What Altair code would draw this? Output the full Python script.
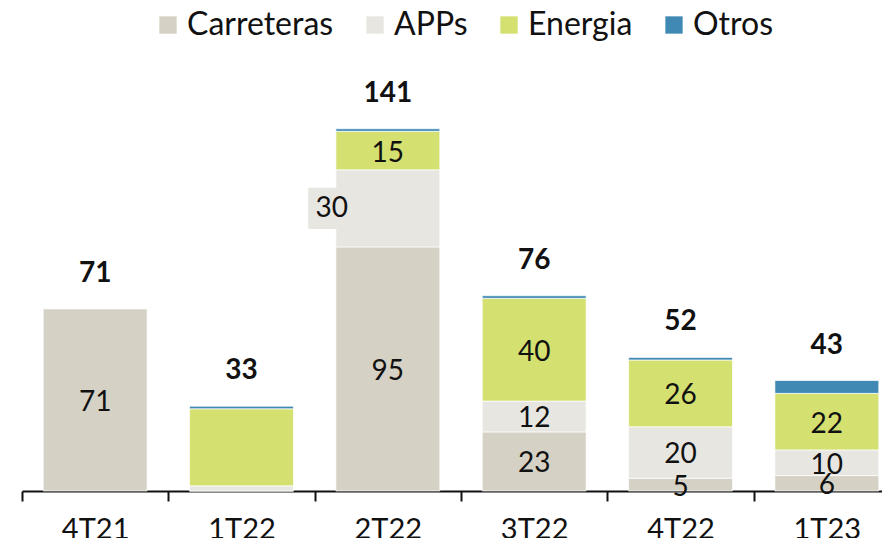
import altair as alt
import pandas as pd

categories = ["4T21", "1T22", "2T22", "3T22", "4T22", "1T23"]
series = ["Carreteras", "APPs", "Energia", "Otros"]
carreteras = [71, 0, 95, 23, 5, 6]
apps = [0, 2, 30, 12, 20, 10]
energia = [0, 30, 15, 40, 26, 22]
otros = [0, 1, 1, 1, 1, 5]
totals = [71, 33, 141, 76, 52, 43]
carreteras_labels = ["71", "", "95", "23", "5", "6"]
apps_labels = ["", "", "30", "12", "20", "10"]
energia_labels = ["", "", "15", "40", "26", "22"]
otros_labels = ["", "", "", "", "", ""]
colors = ["#d5d1c4", "#e7e6e1", "#d4e06f", "#3f89b4"]

rows = []
for si, (name, vals, labs) in enumerate(zip(series,
                                             [carreteras, apps, energia, otros],
                                             [carreteras_labels, apps_labels, energia_labels, otros_labels])):
    for ci, c in enumerate(categories):
        rows.append(dict(cat=c, series=name, order=si, value=vals[ci], label=labs[ci]))
df = pd.DataFrame(rows)
df["end"] = df.groupby("cat")["value"].cumsum()
df["mid"] = df["end"] - df["value"] / 2
tot_df = pd.DataFrame({"cat": categories, "total": totals})

FONT = "Lato"
TXT = "#111111"
RANGE = 878
HALF_STEP = RANGE / len(categories) / 2
yscale = alt.Scale(domain=[0, 188], nice=False, zero=True)
xscale = alt.Scale(paddingInner=0.29, paddingOuter=0.145, range=[0, RANGE])
xaxis = alt.Axis(title=None, labelAngle=0, labelFontSize=29, labelFont=FONT,
                 labelColor=TXT, labelPadding=14, tickSize=10,
                 tickOffset=-HALF_STEP, labelOffset=HALF_STEP,
                 tickColor=TXT, tickWidth=2, domainColor=TXT, domainWidth=2,
                 grid=False)
x_enc = alt.X("cat:N", sort=categories, scale=xscale, axis=xaxis)

bars = alt.Chart(df).mark_bar(stroke="white", strokeWidth=0.7).encode(
    x=x_enc,
    y=alt.Y("value:Q", stack="zero", scale=yscale, axis=None),
    color=alt.Color("series:N",
                    scale=alt.Scale(domain=series, range=colors),
                    legend=alt.Legend(title=None, orient="none", legendX=130, legendY=1,
                                      direction="horizontal", symbolType="square",
                                      symbolSize=300, symbolStrokeWidth=0, symbolOpacity=1,
                                      labelFontSize=32, labelFont=FONT, labelColor=TXT,
                                      labelOffset=3, columnPadding=25, padding=0)),
    order=alt.Order("order:Q"),
)

labels = alt.Chart(df).transform_filter(
    "datum.label != '' && !(datum.cat == '2T22' && datum.series == 'APPs')"
).mark_text(fontSize=28, font=FONT, color=TXT, dy=3).encode(
    x=x_enc,
    y=alt.Y("mid:Q", scale=yscale, axis=None),
    text="label:N",
)

callout_box = alt.Chart(df).transform_filter(
    "datum.cat == '2T22' && datum.series == 'APPs'"
).mark_point(shape="M-3.98,-1.03L-2.5,-1.03L-2.5,1.03L-3.98,1.03Z", size=1600,
             filled=True, color="#e7e6e1", opacity=1, strokeWidth=0).encode(
    x=x_enc,
    y=alt.Y("mid:Q", scale=yscale, axis=None),
)

callout_text = alt.Chart(df).transform_filter(
    "datum.cat == '2T22' && datum.series == 'APPs'"
).mark_text(fontSize=28, font=FONT, color=TXT, dx=-56, dy=1).encode(
    x=x_enc,
    y=alt.Y("mid:Q", scale=yscale, axis=None),
    text="label:N",
)

tot = alt.Chart(tot_df).mark_text(fontSize=28, font=FONT, fontWeight="bold", color=TXT, dy=-35).encode(
    x=x_enc,
    y=alt.Y("total:Q", scale=yscale, axis=None),
    text="total:Q",
)

chart = alt.layer(bars, labels, callout_box, callout_text, tot).properties(
    width=860, height=483,
    padding={"left": 14, "top": 0, "right": 0, "bottom": 47},
    autosize=alt.AutoSizeParams(type="none"),
).configure(background="white").configure_view(strokeWidth=0, stroke="transparent")

chart.save("out.html", embed_options={"renderer": "svg", "actions": False})
